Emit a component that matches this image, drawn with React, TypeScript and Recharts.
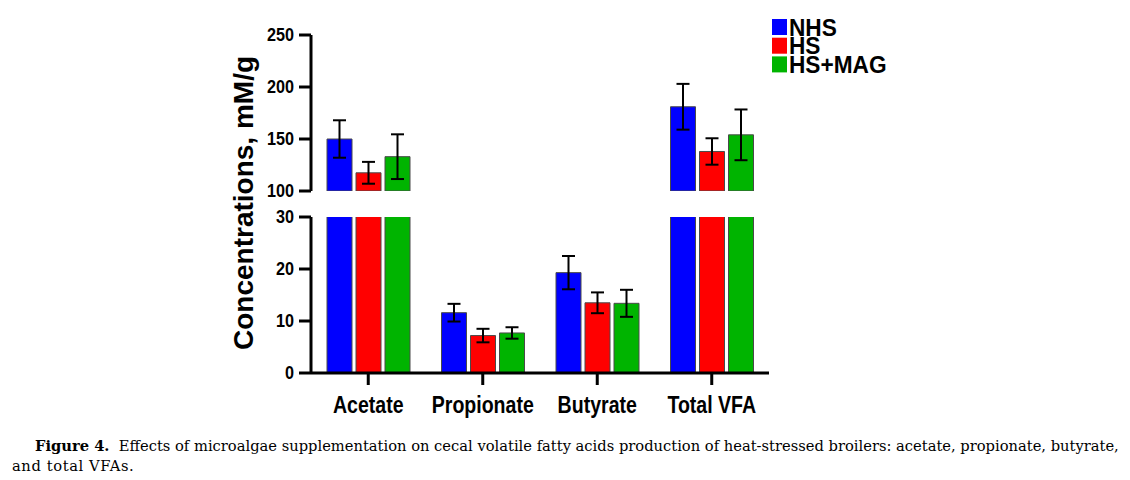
import React from 'react';
import { BarChart, Bar, XAxis, YAxis, ErrorBar } from 'recharts';

// Cecal VFA concentrations (mM/g), mean and SEM per treatment
const categories = ['Acetate', 'Propionate', 'Butyrate', 'Total VFA'];
const seriesNames = ['NHS', 'HS', 'HS+MAG'];
const seriesColors = ['#0000ff', '#ff0000', '#00b400'];
const nhsMean = [150, 11.6, 19.3, 181];
const nhsSem = [18, 1.7, 3.2, 22];
const hsMean = [117.5, 7.2, 13.5, 138];
const hsSem = [10.5, 1.3, 2.0, 12.7];
const magMean = [133, 7.7, 13.4, 154];
const magSem = [21.5, 1.1, 2.6, 24.4];
const upperTicks = [100, 150, 200, 250];
const lowerTicks = [0, 10, 20, 30];

const means = [nhsMean, hsMean, magMean];
const sems = [nhsSem, hsSem, magSem];

// Rows for one segment of the broken axis; error bars only where the mean falls inside it
function buildRows(lo: number, hi: number) {
  return categories.map((category, i) => {
    const row: Record<string, string | number | null> = { category };
    means.forEach((m, s) => {
      const v = m[i];
      const inside = v >= lo && v <= hi;
      row['v' + s] = v < lo ? null : v;
      row['e' + s] = inside ? sems[s][i] : null;
    });
    return row;
  });
}

const upperRows = buildRows(upperTicks[0], upperTicks[upperTicks.length - 1]);
const lowerRows = buildRows(lowerTicks[0], lowerTicks[lowerTicks.length - 1]);

const FONT = '"Liberation Sans", Arial, sans-serif';
const LEGEND_ROW = 18.7;

const YTick = (props: any) => {
  const { x, y, payload } = props;
  return (
    <text
      transform={`translate(${x},${y}) scale(0.9,1)`}
      textAnchor="end"
      dy="0.36em"
      fontFamily={FONT}
      fontWeight="bold"
      fontSize={18}
      fill="#000"
    >
      {payload.value}
    </text>
  );
};

const XTick = (props: any) => {
  const { x, y, payload } = props;
  return (
    <text
      transform={`translate(${x},${y}) scale(0.85,1)`}
      textAnchor="middle"
      dy="0.71em"
      fontFamily={FONT}
      fontWeight="bold"
      fontSize={23}
      fill="#000"
    >
      {payload.value}
    </text>
  );
};

const axisStroke = { stroke: '#000', strokeWidth: 3 };

function renderBars() {
  return seriesNames.map((name, s) => (
    <Bar
      key={name}
      dataKey={'v' + s}
      name={name}
      fill={seriesColors[s]}
      stroke="#4a4a4a"
      strokeWidth={1}
      isAnimationActive={false}
    >
      <ErrorBar dataKey={'e' + s} width={6.5} stroke="#000" strokeWidth={2} direction="y" />
    </Bar>
  ));
}

export default function App() {
  return (
    <div
      style={{
        position: 'absolute',
        left: 0,
        top: 0,
        width: 1130,
        height: 480,
        background: '#fff',
        overflow: 'hidden',
      }}
    >
      {/* upper segment: 100–250 */}
      <div style={{ position: 'absolute', left: 0, top: 0 }}>
        <BarChart
          width={1130}
          height={210}
          data={upperRows}
          margin={{ top: 35, right: 361, bottom: 19, left: 251 }}
          barSize={25}
          barGap={4}
        >
          <XAxis dataKey="category" hide />
          <YAxis
            width={60}
            domain={[upperTicks[0], upperTicks[upperTicks.length - 1]]}
            ticks={upperTicks}
            allowDataOverflow
            axisLine={axisStroke}
            tickLine={axisStroke}
            tickSize={12}
            tickMargin={5}
            tick={<YTick />}
            interval={0}
          />
          {renderBars()}
        </BarChart>
      </div>

      {/* lower segment: 0–30 */}
      <div style={{ position: 'absolute', left: 0, top: 200 }}>
        <BarChart
          width={1130}
          height={235}
          data={lowerRows}
          margin={{ top: 17, right: 361, bottom: 0, left: 251 }}
          barSize={25}
          barGap={4}
        >
          <XAxis
            dataKey="category"
            height={62}
            axisLine={axisStroke}
            tickLine={axisStroke}
            tickSize={12}
            tickMargin={12}
            tick={<XTick />}
            interval={0}
          />
          <YAxis
            width={60}
            domain={[lowerTicks[0], lowerTicks[lowerTicks.length - 1]]}
            ticks={lowerTicks}
            allowDataOverflow
            axisLine={axisStroke}
            tickLine={axisStroke}
            tickSize={12}
            tickMargin={5}
            tick={<YTick />}
            interval={0}
          />
          {renderBars()}
        </BarChart>
      </div>

      {/* shared axis title */}
      <svg
        width={1130}
        height={480}
        style={{ position: 'absolute', left: 0, top: 0, pointerEvents: 'none' }}
      >
        <text
          transform="translate(253,203) rotate(-90)"
          textAnchor="middle"
          fontFamily={FONT}
          fontWeight="bold"
          fontSize={28}
          fill="#000"
        >
          Concentrations, mM/g
        </text>
      </svg>

      {/* legend: swatches plus one stacked text block */}
      <svg
        width={160}
        height={70}
        style={{ position: 'absolute', left: 770, top: 15, pointerEvents: 'none' }}
      >
        {seriesNames.map((name, s) => (
          <rect
            key={name}
            x={2}
            y={4 + s * LEGEND_ROW}
            width={15}
            height={16}
            fill={seriesColors[s]}
          />
        ))}
        <text
          fontFamily={FONT}
          fontWeight="bold"
          fontSize={21}
          fill="#000"
          transform="translate(19,20.5) scale(1.08,1.12)"
        >
          {seriesNames.map((name, s) => (
            <tspan key={name} x={0} y={(s * LEGEND_ROW) / 1.12}>
              {name}
            </tspan>
          ))}
        </text>
      </svg>

      {/* figure caption */}
      <div
        style={{
          position: 'absolute',
          left: 35,
          top: 437,
          whiteSpace: 'nowrap',
          fontFamily: '"DejaVu Serif", serif',
          fontSize: 14.7,
          color: '#000',
        }}
      >
        <b>Figure 4.</b>&nbsp; Effects of microalgae supplementation on cecal volatile fatty acids
        production of heat-stressed broilers: acetate, propionate, butyrate,
      </div>
      <div
        style={{
          position: 'absolute',
          left: 12,
          top: 457,
          whiteSpace: 'nowrap',
          fontFamily: '"DejaVu Serif", serif',
          fontSize: 14.7,
          letterSpacing: 0.6,
          color: '#000',
        }}
      >
        and total VFAs.
      </div>
    </div>
  );
}
